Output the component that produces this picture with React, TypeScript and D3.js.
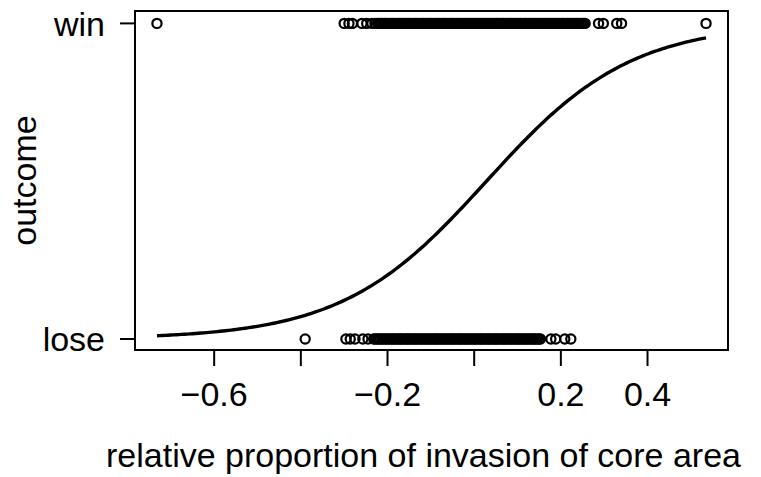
import React from "react";
import * as d3 from "d3";

const winValues = [
  -0.732, -0.300, -0.289, -0.281, -0.259, -0.248, -0.236, -0.229,
  -0.223, -0.219, -0.215, -0.211, -0.207, -0.204, -0.200, -0.196, -0.192, -0.188,
  -0.185, -0.181, -0.177, -0.173, -0.170, -0.166, -0.162, -0.158, -0.154, -0.151,
  -0.147, -0.143, -0.139, -0.136, -0.132, -0.128, -0.124, -0.120, -0.117, -0.113,
  -0.109, -0.105, -0.102, -0.098, -0.094, -0.090, -0.086, -0.083, -0.079, -0.075,
  -0.071, -0.068, -0.064, -0.060, -0.056, -0.052, -0.049, -0.045, -0.041, -0.037,
  -0.034, -0.030, -0.026, -0.022, -0.018, -0.015, -0.011, -0.007, -0.003, 0.000,
  0.004, 0.008, 0.012, 0.016, 0.019, 0.023, 0.027, 0.031, 0.034, 0.038,
  0.042, 0.046, 0.050, 0.053, 0.057, 0.061, 0.065, 0.068, 0.072, 0.076,
  0.080, 0.084, 0.087, 0.091, 0.095, 0.099, 0.102, 0.106, 0.110, 0.114,
  0.118, 0.121, 0.125, 0.129, 0.133, 0.136, 0.140, 0.144, 0.148, 0.152,
  0.155, 0.159, 0.163, 0.167, 0.170, 0.174, 0.178, 0.182, 0.186, 0.189,
  0.193, 0.197, 0.201, 0.204, 0.208, 0.212, 0.216, 0.220, 0.223, 0.227,
  0.231, 0.235, 0.238, 0.242, 0.246, 0.250, 0.253, 0.256,
  0.287, 0.298, 0.329, 0.340, 0.535,
];

const loseValues = [
  -0.390, -0.296, -0.286, -0.275, -0.257, -0.245,
  -0.232, -0.228, -0.224, -0.221, -0.217, -0.213, -0.209, -0.205, -0.202, -0.198,
  -0.194, -0.190, -0.187, -0.183, -0.179, -0.175, -0.171, -0.168, -0.164, -0.160,
  -0.156, -0.153, -0.149, -0.145, -0.141, -0.137, -0.134, -0.130, -0.126, -0.122,
  -0.119, -0.115, -0.111, -0.107, -0.103, -0.100, -0.096, -0.092, -0.088, -0.085,
  -0.081, -0.077, -0.073, -0.069, -0.066, -0.062, -0.058, -0.054, -0.051, -0.047,
  -0.043, -0.039, -0.035, -0.032, -0.028, -0.024, -0.020, -0.017, -0.013, -0.009,
  -0.005, -0.001, 0.002, 0.006, 0.010, 0.014, 0.017, 0.021, 0.025, 0.029,
  0.033, 0.036, 0.040, 0.044, 0.048, 0.051, 0.055, 0.059, 0.063, 0.067,
  0.070, 0.074, 0.078, 0.082, 0.085, 0.089, 0.093, 0.097, 0.101, 0.104,
  0.108, 0.112, 0.116, 0.119, 0.123, 0.127, 0.131, 0.135, 0.138, 0.142,
  0.146, 0.150, 0.153,
  0.177, 0.188, 0.209, 0.223,
];

const xTicks = [-0.6, -0.4, -0.2, 0, 0.2, 0.4];
const xTickLabels = ["\u22120.6", "", "\u22120.2", "", "0.2", "0.4"];
const yCategories = ["lose", "win"];

// fitted logistic model: p = 1 / (1 + exp(-(intercept + slope * x)))
const intercept = -0.17;
const slope = 6.0;

const W = 761;
const H = 477;
const box = { left: 135, right: 728, top: 11, bottom: 350 };
const FONT = "'Liberation Sans', Arial, Helvetica, sans-serif";
const FS = 34;

export default function App() {
  const all = [...winValues, ...loseValues];
  const [mn, mx] = d3.extent(all) as [number, number];
  const pad = (mx - mn) * 0.04;
  const x = d3.scaleLinear().domain([mn - pad, mx + pad]).range([box.left, box.right]);
  const y = d3.scaleLinear().domain([0, 1]).range([339, 23.4]);

  const curvePts = d3.range(0, 201).map((i) => {
    const v = mn + ((mx - mn) * i) / 200;
    return [v, 1 / (1 + Math.exp(-(intercept + slope * v)))] as [number, number];
  });
  const line = d3
    .line<[number, number]>()
    .x((d) => x(d[0]))
    .y((d) => y(d[1]));

  const cy = (c: string) => y(yCategories.indexOf(c));

  return (
    <svg
      width={W}
      height={H}
      style={{ position: "absolute", left: 0, top: 0, background: "#fff" }}
      fontFamily={FONT}
    >
      <rect x={0} y={0} width={W} height={H} fill="#fff" />
      {/* points */}
      {loseValues.map((v, i) => (
        <circle key={"l" + i} cx={x(v)} cy={cy("lose")} r={4.6} fill="none" stroke="#000" strokeWidth={2.2} />
      ))}
      {winValues.map((v, i) => (
        <circle key={"w" + i} cx={x(v)} cy={cy("win")} r={4.6} fill="none" stroke="#000" strokeWidth={2.2} />
      ))}
      {/* fitted curve */}
      <path d={line(curvePts) || ""} fill="none" stroke="#000" strokeWidth={3.4} />
      {/* box */}
      <rect
        x={box.left}
        y={box.top}
        width={box.right - box.left}
        height={box.bottom - box.top}
        fill="none"
        stroke="#000"
        strokeWidth={2}
      />
      {/* x axis ticks */}
      {xTicks.map((t, i) => (
        <g key={"xt" + i}>
          <line x1={x(t)} x2={x(t)} y1={box.bottom} y2={box.bottom + 16} stroke="#000" strokeWidth={2} />
          {xTickLabels[i] && (
            <text x={x(t)} y={406} fontSize={FS} textAnchor="middle" fill="#000">
              {xTickLabels[i]}
            </text>
          )}
        </g>
      ))}
      {/* y axis ticks */}
      {yCategories.map((c, i) => (
        <g key={"yt" + i}>
          <line x1={box.left - 15} x2={box.left} y1={y(i)} y2={y(i)} stroke="#000" strokeWidth={2} />
          <text x={105} y={y(i)} dy="0.36em" fontSize={FS} textAnchor="end" fill="#000">
            {c}
          </text>
        </g>
      ))}
      {/* axis titles */}
      <text x={(box.left + box.right) / 2 - 8} y={467} fontSize={FS} textAnchor="middle" fill="#000">
        relative proportion of invasion of core area
      </text>
      <text
        transform={`translate(36, ${(box.top + box.bottom) / 2}) rotate(-90)`}
        fontSize={FS}
        textAnchor="middle"
        fill="#000"
      >
        outcome
      </text>
    </svg>
  );
}
